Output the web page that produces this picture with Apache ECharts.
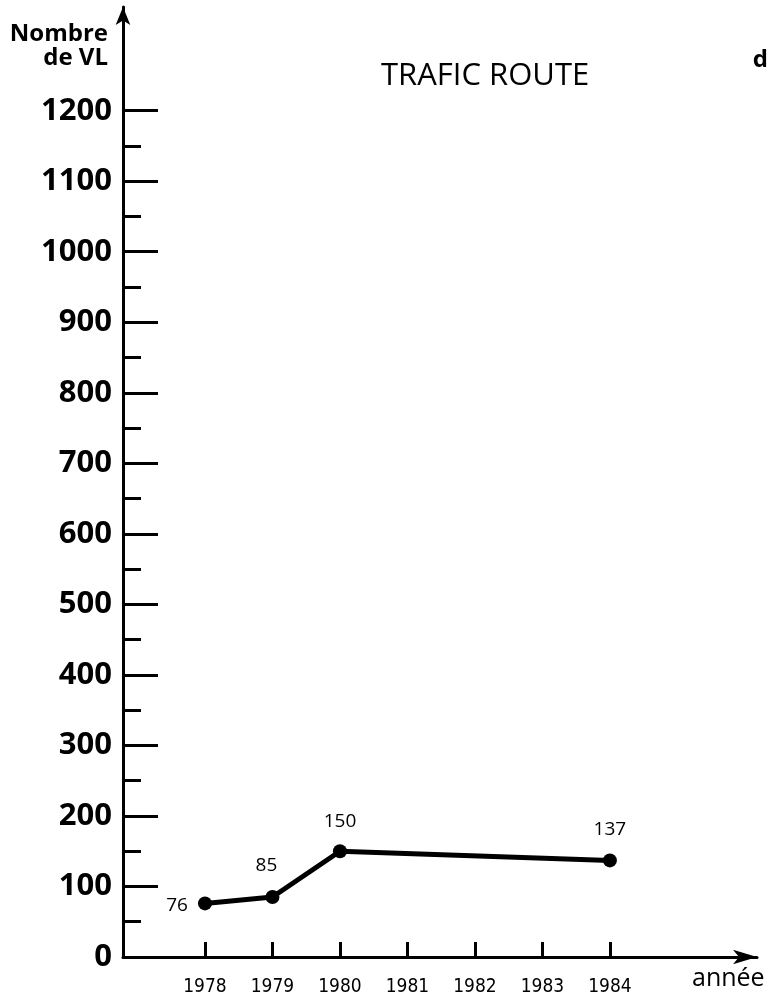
<!DOCTYPE html>
<html>
<head>
<meta charset="utf-8">
<script src="https://cdn.jsdelivr.net/npm/echarts@6/dist/echarts.min.js"></script>
<style>
  html, body { margin: 0; padding: 0; background: #fff; }
  #main { width: 768px; height: 1001px; }
</style>
</head>
<body>
<div id="main"></div>
<script>
const years = [1978, 1979, 1980, 1981, 1982, 1983, 1984];
const pointYears = [1978, 1979, 1980, 1984];
const trafic = [76, 85, 150, 137];
const majorTicks = [0, 100, 200, 300, 400, 500, 600, 700, 800, 900, 1000, 1100, 1200];
const minorTicks = [50, 150, 250, 350, 450, 550, 650, 750, 850, 950, 1050, 1150];

const font = '"Open Sans", "DejaVu Sans", sans-serif';
const myChart = echarts.init(document.getElementById('main'));

// label offsets
const labelOffsets = [[-28, 2], [-6, -31], [0, -30], [0, -31]];

const option = {
    animation: false,
    backgroundColor: '#fff',
    grid: { left: 123, right: 11, top: 7, bottom: 44 },
    xAxis: {
        type: 'value',
        min: 1976.785,
        max: 1986.18,
        axisLine: {
            show: true,
            lineStyle: { color: '#000', width: 3 },
            symbol: ['none', 'arrow'],
            symbolSize: [11, 24]
        },
        axisTick: { show: true, inside: true, length: 15, customValues: years, lineStyle: { color: '#000', width: 3 } },
        axisLabel: {
            customValues: years,
            margin: 21,
            color: '#000',
            fontFamily: '"DejaVu Sans Condensed", "Liberation Sans Narrow", sans-serif',
            fontSize: 19,
            formatter: v => String(v)
        },
        splitLine: { show: false }
    },
    yAxis: [
        {
            type: 'value',
            min: 0,
            max: 1347,
            axisLine: {
                show: true,
                lineStyle: { color: '#000', width: 3 },
                symbol: ['none', 'arrow'],
                symbolSize: [11, 18]
            },
            axisTick: { show: true, inside: true, length: 35, customValues: majorTicks, lineStyle: { color: '#000', width: 3 } },
            axisLabel: {
                customValues: majorTicks,
                margin: 11,
                color: '#000',
                fontFamily: font,
                fontWeight: 'bold',
                fontSize: 31,
                formatter: v => String(v)
            },
            splitLine: { show: false }
        },
        {
            type: 'value',
            min: 0,
            max: 1347,
            position: 'left',
            axisLine: { show: false },
            axisTick: { show: true, inside: true, length: 18, customValues: minorTicks, lineStyle: { color: '#000', width: 3 } },
            axisLabel: { show: false },
            splitLine: { show: false }
        }
    ],
    graphic: [
        {
            type: 'text', left: 381, top: 61,
            style: { text: 'TRAFIC ROUTE', font: '31px ' + font, fill: '#000' }
        },
        {
            type: 'text', right: 0, top: 48,
            style: { text: 'd', font: 'bold 24px ' + font, fill: '#000' }
        },
        {
            type: 'text', x: 108, y: 22,
            style: { text: 'Nombre', font: 'bold 24px ' + font, fill: '#000', align: 'right', verticalAlign: 'top' }
        },
        {
            type: 'text', x: 108, y: 46,
            style: { text: 'de VL', font: 'bold 24px ' + font, fill: '#000', align: 'right', verticalAlign: 'top' }
        },
        {
            type: 'text', left: 692, top: 966,
            style: { text: 'année', font: '25px ' + font, fill: '#000' }
        }
    ],
    series: [
        {
            type: 'line',
            data: pointYears.map((y, i) => ({
                value: [y, trafic[i]],
                label: { offset: labelOffsets[i] }
            })),
            symbol: 'circle',
            symbolSize: 14,
            lineStyle: { color: '#000', width: 5 },
            itemStyle: { color: '#000' },
            label: {
                show: true,
                position: 'inside',
                color: '#000',
                fontFamily: font,
                fontSize: 19,
                formatter: p => p.value[1]
            }
        }
    ]
};

myChart.setOption(option);
</script>
</body>
</html>
